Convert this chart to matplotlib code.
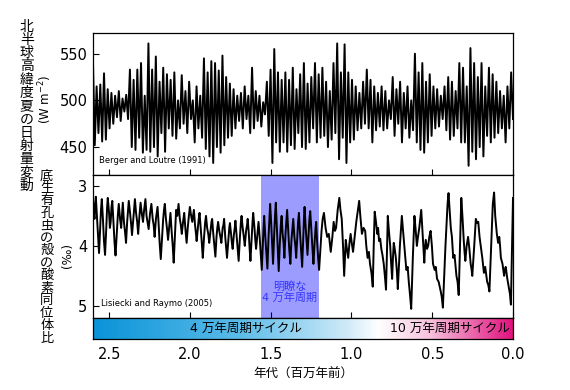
import matplotlib
matplotlib.use("Agg")
import matplotlib.pyplot as plt
import numpy as np
from matplotlib.colors import LinearSegmentedColormap

plt.rcParams["font.family"] = ["DejaVu Sans", "Noto Sans CJK JP"]

# Summer insolation at high northern latitudes (W m-2), alternating maxima/minima, 2.6 Ma -> 0
insolation = [
    545, 452, 515, 465, 517, 456, 529, 458, 512, 470, 508, 475, 505, 482, 510, 478, 502, 488, 506, 480, 533, 450,
    522, 447, 533, 460, 540, 444, 505, 447, 561, 445, 533, 450, 547, 440, 520, 465, 535, 445, 528, 470,
    522, 462, 530, 459, 500, 470, 527, 475, 510, 465, 520, 480, 500, 455, 515, 470, 505, 460, 545, 448, 530, 440, 542, 433,
    540, 450, 532, 444, 548, 452, 525, 460, 518, 462, 512, 470, 505, 478,
    508, 470, 515, 480, 505, 465, 535, 470, 510, 478, 505, 472, 498, 485, 520, 462,
    533, 433, 555, 455, 530, 445, 522, 455, 530, 445, 522, 452, 535, 448, 512, 465, 528, 450, 540, 448, 518, 455, 525, 470,
    540, 455, 528, 460, 535, 462, 520, 450, 510, 458, 540, 465, 561, 437, 530, 460,
    560, 433, 530, 455, 522, 458, 515, 468, 508, 470, 520, 475,
    533, 470, 522, 455, 515, 468, 508, 472, 515, 468, 510, 470, 500, 480, 525, 462, 512, 475, 520, 455, 508, 470, 515, 460, 500, 468,
    550, 455, 530, 447, 540, 444, 520, 455, 528, 462, 515, 470, 512, 472, 505, 480, 515, 468, 525, 458, 520, 462, 510, 470,
    540, 455, 535, 455, 515, 430, 556, 445, 540, 437, 525, 450, 540, 440, 515, 462, 535, 455, 528, 460, 520, 465, 510, 470,
    505, 455, 515, 470, 530, 480,
]
insolation_age = np.linspace(2.6, 0.0, len(insolation))

# LR04 benthic d18O stack (permil), 2.6 Ma -> 0
d18o_age = [
    2.600, 2.595, 2.590, 2.586, 2.582, 2.575, 2.568, 2.562, 2.555, 2.550, 2.545, 2.538, 2.532, 2.525, 2.518,
    2.512, 2.508, 2.500, 2.495, 2.490, 2.485, 2.480, 2.472, 2.466, 2.460, 2.452, 2.446, 2.440, 2.432, 2.425,
    2.420, 2.415, 2.408, 2.400, 2.395, 2.388, 2.382, 2.378, 2.370, 2.363, 2.358, 2.350, 2.344, 2.340, 2.333,
    2.326, 2.320, 2.312, 2.305, 2.298, 2.290, 2.283, 2.275, 2.268, 2.262, 2.255, 2.246, 2.238, 2.230, 2.224,
    2.218, 2.210, 2.200, 2.194, 2.187, 2.180, 2.172, 2.165, 2.160, 2.155, 2.148, 2.140, 2.135, 2.127, 2.120,
    2.113, 2.106, 2.100, 2.093, 2.085, 2.078, 2.070, 2.062, 2.056, 2.050, 2.042, 2.035, 2.028, 2.020, 2.013,
    2.006, 2.000, 1.992, 1.985, 1.980, 1.975, 1.968, 1.962, 1.958, 1.950, 1.945, 1.940, 1.933, 1.926, 1.920,
    1.912, 1.905, 1.900, 1.893, 1.886, 1.880, 1.872, 1.866, 1.862, 1.855, 1.848, 1.842, 1.835, 1.830, 1.825,
    1.818, 1.811, 1.805, 1.797, 1.792, 1.788, 1.781, 1.775, 1.770, 1.762, 1.756, 1.752, 1.745, 1.740, 1.735,
    1.727, 1.722, 1.718, 1.710, 1.703, 1.698, 1.690, 1.684, 1.680, 1.673, 1.666, 1.660, 1.652, 1.646, 1.642,
    1.635, 1.630, 1.625, 1.617, 1.612, 1.608, 1.600, 1.595, 1.590, 1.582, 1.575, 1.568, 1.562, 1.555, 1.548,
    1.544, 1.540, 1.533, 1.527, 1.520, 1.513, 1.507, 1.503, 1.497, 1.491, 1.485, 1.478, 1.472, 1.468, 1.462,
    1.456, 1.450, 1.443, 1.437, 1.432, 1.426, 1.420, 1.415, 1.408, 1.402, 1.398, 1.391, 1.385, 1.378, 1.371,
    1.365, 1.360, 1.353, 1.347, 1.342, 1.335, 1.330, 1.325, 1.318, 1.311, 1.305, 1.298, 1.293, 1.290, 1.284,
    1.278, 1.272, 1.265, 1.260, 1.255, 1.248, 1.241, 1.235, 1.228, 1.222, 1.218, 1.212, 1.206, 1.200, 1.192,
    1.185, 1.178, 1.170, 1.160, 1.150, 1.140, 1.128, 1.118, 1.110, 1.102, 1.095, 1.085, 1.075, 1.068, 1.060,
    1.052, 1.045, 1.040, 1.035, 1.028, 1.020, 1.012, 1.005, 0.998, 0.990, 0.980, 0.970, 0.960, 0.952, 0.945,
    0.935, 0.925, 0.915, 0.908, 0.900, 0.892, 0.885, 0.876, 0.868, 0.862, 0.856, 0.848, 0.840, 0.835, 0.829,
    0.822, 0.815, 0.808, 0.800, 0.793, 0.786, 0.780, 0.775, 0.768, 0.760, 0.754, 0.748, 0.743, 0.738, 0.732,
    0.725, 0.718, 0.713, 0.700, 0.688, 0.682, 0.675, 0.668, 0.660, 0.652, 0.645, 0.638, 0.630, 0.620, 0.610,
    0.602, 0.595, 0.588, 0.580, 0.574, 0.568, 0.558, 0.549, 0.545, 0.540, 0.532, 0.525, 0.518, 0.510, 0.502,
    0.495, 0.485, 0.478, 0.470, 0.460, 0.448, 0.441, 0.434, 0.418, 0.405, 0.399, 0.392, 0.385, 0.378, 0.370,
    0.362, 0.350, 0.343, 0.336, 0.328, 0.320, 0.312, 0.305, 0.300, 0.295, 0.287, 0.278, 0.270, 0.262, 0.256,
    0.252, 0.240, 0.230, 0.222, 0.215, 0.207, 0.200, 0.190, 0.180, 0.172, 0.160, 0.153, 0.146, 0.135, 0.125,
    0.117, 0.110, 0.100, 0.092, 0.085, 0.080, 0.075, 0.065, 0.055, 0.050, 0.045, 0.035, 0.025, 0.019, 0.013,
    0.006, 0.000,
]
d18o = [
    3.20, 3.45, 3.55, 3.30, 3.18, 3.50, 3.85, 4.12, 3.70, 3.40, 3.22, 3.55, 3.90, 4.15, 3.75,
    3.35, 3.20, 3.45, 3.70, 3.60, 3.35, 3.25, 3.65, 3.95, 4.16, 3.80, 3.50, 3.30, 3.55, 3.70,
    3.50, 3.28, 3.60, 3.80, 3.95, 3.60, 3.40, 3.25, 3.45, 3.65, 3.82, 3.55, 3.35, 3.22, 3.45,
    3.60, 3.80, 3.50, 3.28, 3.45, 3.60, 3.40, 3.22, 3.50, 3.60, 3.72, 3.45, 3.30, 3.55, 3.65,
    3.85, 3.55, 3.35, 3.60, 3.95, 4.22, 3.85, 3.55, 3.40, 3.30, 3.55, 3.75, 3.90, 3.65, 3.45,
    3.75, 4.00, 4.28, 3.85, 3.40, 3.50, 3.30, 3.55, 3.65, 3.80, 3.60, 3.45, 3.70, 3.95, 3.70,
    3.50, 3.35, 3.50, 3.60, 3.50, 3.40, 3.65, 3.80, 3.92, 3.70, 3.55, 3.45, 3.70, 3.95, 4.20,
    3.85, 3.60, 3.50, 3.70, 3.80, 3.95, 3.75, 3.60, 3.55, 3.80, 4.00, 4.18, 3.85, 3.70, 3.60,
    3.75, 3.85, 3.95, 3.70, 3.65, 3.55, 3.85, 4.05, 4.20, 3.90, 3.70, 3.62, 3.80, 3.95, 4.05,
    3.80, 3.70, 3.58, 3.85, 4.10, 4.25, 3.85, 3.60, 3.50, 3.70, 3.85, 4.00, 3.75, 3.65, 3.55,
    3.80, 4.05, 4.25, 3.85, 3.60, 3.45, 3.70, 3.90, 4.05, 3.80, 3.60, 3.85, 4.10, 4.40, 3.95,
    3.70, 3.50, 3.85, 4.10, 4.38, 3.85, 3.50, 3.30, 3.60, 3.95, 4.30, 3.80, 3.45, 3.28, 3.65,
    4.05, 4.42, 3.95, 3.65, 3.50, 3.80, 3.95, 4.20, 3.80, 3.55, 3.40, 3.75, 4.05, 4.30, 3.90,
    3.70, 3.55, 3.85, 4.00, 4.20, 3.85, 3.60, 3.45, 3.80, 4.10, 4.35, 3.85, 3.50, 3.35, 3.65,
    3.90, 4.15, 3.80, 3.55, 3.42, 3.75, 4.05, 4.30, 3.95, 3.70, 3.60, 3.95, 4.20, 4.40, 4.05,
    3.75, 3.55, 3.45, 3.70, 3.85, 3.80, 4.10, 3.85, 3.60, 3.75, 3.70, 3.40, 3.20, 3.40, 3.55,
    4.00, 4.50, 4.20, 3.90, 4.05, 4.20, 3.95, 3.80, 3.95, 4.10, 3.85, 3.60, 3.40, 3.25, 3.50,
    3.80, 3.70, 3.75, 4.00, 4.20, 4.10, 4.30, 4.45, 4.68, 4.00, 3.43, 3.60, 3.80, 3.70, 3.92,
    3.88, 4.05, 4.15, 4.30, 4.50, 4.73, 4.10, 3.50, 3.75, 4.00, 4.30, 4.55, 4.20, 3.95, 4.05,
    4.20, 4.45, 4.72, 4.00, 3.50, 3.70, 3.95, 4.15, 4.40, 4.35, 4.60, 4.80, 5.05, 4.20, 3.50,
    3.75, 4.00, 3.85, 3.70, 3.55, 3.40, 3.85, 4.28, 4.05, 3.90, 4.05, 4.00, 3.85, 3.75, 4.00,
    4.30, 4.40, 4.35, 4.55, 4.60, 4.75, 4.85, 5.03, 4.00, 3.30, 3.12, 3.40, 3.70, 3.85, 4.20,
    4.15, 4.50, 4.60, 4.82, 4.00, 3.20, 3.55, 3.90, 4.10, 4.25, 4.00, 3.85, 4.05, 4.30, 4.40,
    4.50, 4.00, 3.55, 3.62, 3.60, 3.85, 4.00, 4.20, 4.45, 4.35, 4.60, 4.65, 4.76, 4.00, 3.30,
    3.11, 3.50, 3.80, 3.95, 3.85, 4.00, 4.20, 4.30, 4.50, 4.40, 4.35, 4.55, 4.70, 4.80, 4.98,
    4.00, 3.20,
]

age_ticks = [2.5, 2.0, 1.5, 1.0, 0.5, 0.0]
span_40k = (1.56, 1.20)

fig = plt.figure(figsize=(5.7, 3.9), dpi=100)
ax1 = fig.add_axes([0.163, 0.551, 0.737, 0.364])
ax2 = fig.add_axes([0.163, 0.185, 0.737, 0.366])
cax = fig.add_axes([0.163, 0.131, 0.737, 0.054])

ax1.plot(insolation_age, insolation, color="black", lw=1.4)
ax1.set(xlim=(2.6, 0.0), ylim=(420, 572))
ax1.set_yticks([450, 500, 550])
ax1.set_xticks(age_ticks)
ax1.tick_params(direction="in", length=4, labelbottom=False, labelsize=10.5, pad=4)
ax1.text(0.015, 0.1, "Berger and Loutre (1991)", transform=ax1.transAxes, fontsize=6, va="center")

ax2.axvspan(*span_40k, color="#9c9cff", lw=0)
ax2.plot(d18o_age, d18o, color="black", lw=1.4)
ax2.set(xlim=(2.6, 0.0), ylim=(5.2, 2.82))
ax2.set_yticks([3, 4, 5])
ax2.set_xticks(age_ticks)
ax2.tick_params(direction="in", length=4, labelbottom=False, labelsize=10.5, pad=4)
ax2.text(0.02, 0.1, "Lisiecki and Raymo (2005)", transform=ax2.transAxes, fontsize=6, va="center")
ax2.text(sum(span_40k) / 2, 4.77, "明瞭な\n4 万年周期", color="#3535ff", fontsize=8,
         ha="center", va="center", linespacing=1.05)

cmap = LinearSegmentedColormap.from_list(
    "cycles", [(0.0, "#0a93d8"), (0.35, "#5cbce9"), (0.6, "#cde9f8"), (0.68, "#ffffff"),
               (0.8, "#f7c3dd"), (1.0, "#e0127f")])
cax.imshow(np.linspace(0, 1, 400)[None, :], extent=[2.6, 0.0, 0, 1], aspect="auto", cmap=cmap)
cax.set(xlim=(2.6, 0.0), ylim=(0, 1), yticks=[])
cax.set_xticks(age_ticks)
cax.set_xticklabels([f"{t:.1f}" for t in age_ticks])
cax.tick_params(length=0, labelsize=10.5, pad=6)
cax.text(1.65, 0.5, "4 万年周期サイクル", fontsize=9, ha="center", va="center")
cax.text(0.02, 0.5, "10 万年周期サイクル", fontsize=9, ha="right", va="center")
cax.set_xlabel("年代（百万年前）", fontsize=9, labelpad=4)

for ax in (ax1, ax2, cax):
    for s in ax.spines.values():
        s.set_linewidth(0.9)

fig.text(0.047, 0.728, "\n".join("北半球高緯度夏の日射量変動"), fontsize=10,
         ha="center", va="center", linespacing=0.93)
fig.text(0.079, 0.746, r"(W m$^{-2}$)", fontsize=8.5, rotation=90, ha="center", va="center")
fig.text(0.082, 0.341, "\n".join("底生有孔虫の殻の酸素同位体比"), fontsize=9.5,
         ha="center", va="center", linespacing=0.95)
fig.text(0.118, 0.346, "(‰)", fontsize=8.5, rotation=90, ha="center", va="center")

fig.savefig("out.png", dpi=100, facecolor="white")
